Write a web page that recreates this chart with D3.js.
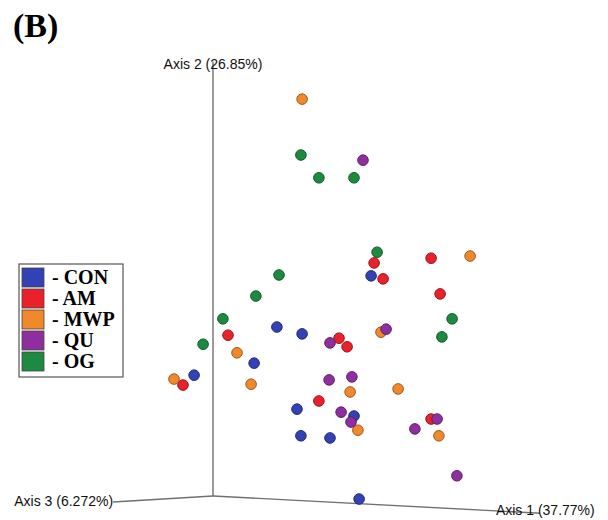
<!DOCTYPE html>
<html>
<head>
<meta charset="utf-8">
<script src="https://cdn.jsdelivr.net/npm/d3@7"></script>
<style>
  body { margin: 0; background: #fff; }
  svg { display: block; }
</style>
</head>
<body>
<div id="chart"></div>
<script>
// groups shown in the legend
const groups = ['CON', 'AM', 'MWP', 'QU', 'OG'];
const groupColors = ['#3242b4', '#e8212b', '#f0892c', '#8f2f9f', '#1d8a3f'];

// projected coordinates (Axis 1 across, Axis 2 up)
const conX = [0.527, 0.213, 0.297, 0.137, -0.063, 0.280, 0.470, 0.293, 0.390, 0.487];
const conY = [0.512, 0.393, 0.377, 0.309, 0.281, 0.202, 0.186, 0.140, 0.135, -0.007];
const amX = [0.537, 0.567, 0.727, 0.757, 0.050, 0.420, 0.447, -0.100, 0.353, 0.727];
const amY = [0.542, 0.505, 0.553, 0.470, 0.374, 0.367, 0.347, 0.258, 0.221, 0.179];
const mwpX = [0.297, 0.857, 0.560, 0.080, -0.130, 0.127, 0.457, 0.617, 0.483, 0.753];
const mwpY = [0.923, 0.558, 0.381, 0.333, 0.272, 0.260, 0.242, 0.249, 0.153, 0.140];
const quX = [0.500, 0.577, 0.390, 0.387, 0.463, 0.427, 0.460, 0.747, 0.673, 0.813];
const quY = [0.781, 0.388, 0.356, 0.270, 0.277, 0.195, 0.172, 0.179, 0.156, 0.047];
const ogX = [0.293, 0.353, 0.470, 0.547, 0.220, 0.143, 0.033, 0.797, 0.763, -0.033];
const ogY = [0.793, 0.740, 0.740, 0.567, 0.514, 0.465, 0.412, 0.412, 0.370, 0.353];

// axis labels and the far ends of the three drawn axes
const axisLabels = ['Axis 1 (37.77%)', 'Axis 2 (26.85%)', 'Axis 3 (6.272%)'];
const axisEnds = [[1.09, -0.040], [0, 1.01], [-0.333, -0.014]];

const width = 608;
const height = 520;

const xScale = d3.scaleLinear().domain([0, 1]).range([213, 513]);
const yScale = d3.scaleLinear().domain([0, 1]).range([496, 66]);

const seriesX = [conX, amX, mwpX, quX, ogX];
const seriesY = [conY, amY, mwpY, quY, ogY];

const points = [];
groups.forEach((g, i) => {
    seriesX[i].forEach((x, j) => {
        points.push({group: g, color: groupColors[i], x: x, y: seriesY[i][j]});
    });
});

const svg = d3.select('#chart')
    .append('svg')
    .attr('width', width)
    .attr('height', height);

// title
svg.append('text')
    .attr('x', 13)
    .attr('y', 37)
    .style('font-family', '"Liberation Serif", "Times New Roman", serif')
    .style('font-weight', 'bold')
    .style('font-size', '34px')
    .text('(B)');

// axes
const axisGroup = svg.append('g').classed('axes', true);
const ox = xScale(0);
const oy = yScale(0);

axisEnds.forEach(([ex, ey]) => {
    axisGroup.append('line')
        .attr('x1', ox)
        .attr('y1', oy)
        .attr('x2', xScale(ex))
        .attr('y2', yScale(ey))
        .attr('stroke', '#707070')
        .attr('stroke-width', 1.4);
});

const labelFont = '"Liberation Sans", Arial, sans-serif';
// Axis 1 label sits over the end of its line
axisGroup.append('text')
    .attr('x', xScale(0.943))
    .attr('y', yScale(-0.045))
    .style('font-family', labelFont)
    .style('font-size', '14px')
    .attr('fill', '#111')
    .text(axisLabels[0]);

axisGroup.append('text')
    .attr('x', xScale(0))
    .attr('y', yScale(1.0) + 3)
    .attr('text-anchor', 'middle')
    .style('font-family', labelFont)
    .style('font-size', '14px')
    .attr('fill', '#111')
    .text(axisLabels[1]);

axisGroup.append('text')
    .attr('x', xScale(-0.333))
    .attr('y', yScale(-0.024))
    .attr('text-anchor', 'end')
    .style('font-family', labelFont)
    .style('font-size', '14px')
    .attr('fill', '#111')
    .text(axisLabels[2]);

// points
svg.append('g')
    .classed('points', true)
    .selectAll('circle')
    .data(points)
    .enter()
    .append('circle')
    .attr('cx', d => xScale(d.x))
    .attr('cy', d => yScale(d.y))
    .attr('r', 5.3)
    .attr('fill', d => d.color)
    .attr('stroke', d => d3.color(d.color).darker(1.2))
    .attr('stroke-width', 1);

// legend
const legend = svg.append('g')
    .attr('transform', 'translate(19,264)');

legend.append('rect')
    .attr('width', 104)
    .attr('height', 113)
    .attr('fill', '#fff')
    .attr('stroke', '#555')
    .attr('stroke-width', 1.2);

const rows = legend.selectAll('.row')
    .data(groups)
    .enter()
    .append('g')
    .classed('row', true)
    .attr('transform', (d, i) => `translate(3,${4 + i * 21})`);

rows.append('rect')
    .attr('width', 22)
    .attr('height', 19)
    .attr('fill', (d, i) => groupColors[i])
    .attr('stroke', '#444')
    .attr('stroke-width', 0.8);

rows.append('text')
    .attr('x', 30)
    .attr('y', 16)
    .style('font-family', '"Liberation Serif", "Times New Roman", serif')
    .style('font-weight', 'bold')
    .style('font-size', '20px')
    .text(d => '- ' + d);
</script>
</body>
</html>
